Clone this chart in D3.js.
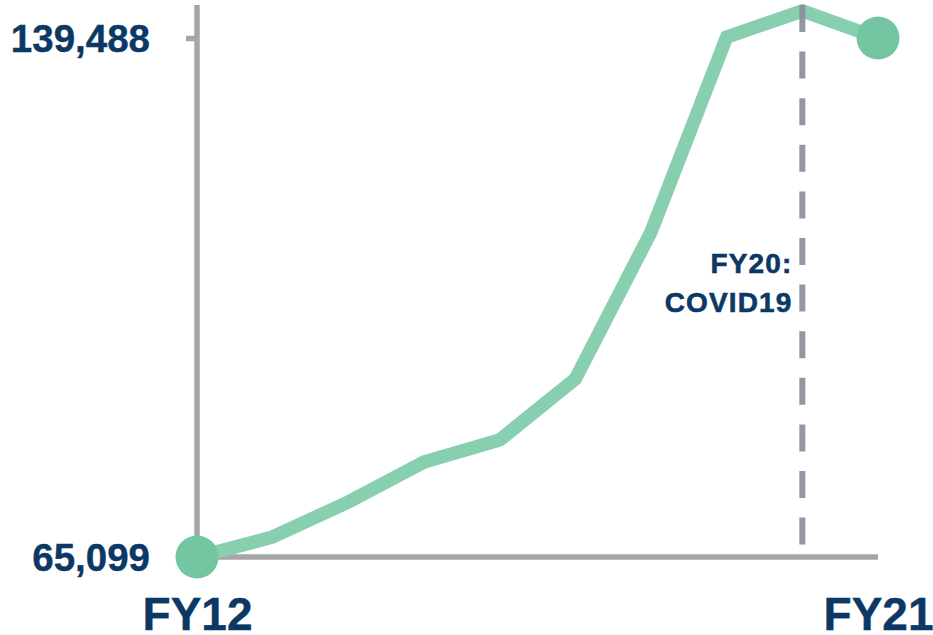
<!DOCTYPE html>
<html><head><meta charset="utf-8">
<script src="https://cdn.jsdelivr.net/npm/d3@7"></script>
<style>
html,body{margin:0;padding:0;background:#fff;}
svg{display:block;font-family:"Liberation Sans",Arial,sans-serif;}
</style></head>
<body>
<svg id="chart" width="933" height="635"></svg>
<script>
const years = ["FY12","FY13","FY14","FY15","FY16","FY17","FY18","FY19","FY20","FY21"];
const values = [65099,67966,72982,78715,81868,90612,111681,139630,143356,139488];
const yTickValues = [65099,139488];
const xTickLabels = ["FY12","FY21"];
const eventYear = "FY20";
const eventLabel = ["FY20:","COVID19"];

const navy = "#0B3864";
const svg = d3.select("#chart");
const x = d3.scalePoint().domain(years).range([197,878]);
const y = d3.scaleLinear().domain([65099,139488]).range([557,38]);

// axes lines
svg.append("line").attr("x1",x("FY12")).attr("x2",x("FY12")).attr("y1",5).attr("y2",y(65099)+3)
  .attr("stroke","#A6A6A6").attr("stroke-width",5.5);
svg.append("line").attr("x1",x("FY12")).attr("x2",878).attr("y1",y(65099)).attr("y2",y(65099))
  .attr("stroke","#A6A6A6").attr("stroke-width",5.5);

// y axis ticks and labels
const yAxis = d3.axisLeft(y).tickValues(yTickValues).tickSize(11).tickPadding(36)
  .tickFormat(d3.format(","));
const gy = svg.append("g").attr("transform",`translate(${x("FY12")},0)`).call(yAxis);
gy.select(".domain").remove();
gy.selectAll(".tick line").attr("stroke","#A6A6A6").attr("stroke-width",5.5);
gy.selectAll(".tick text").attr("fill",navy).attr("font-size","38.5px").attr("font-weight","bold")
  .attr("font-family","'Liberation Sans',Arial,sans-serif").attr("dy","0.36em")
  .attr("stroke",navy).attr("stroke-width",0.4);

// x axis labels
const xAxis = d3.axisBottom(x).tickValues(xTickLabels).tickSize(0).tickPadding(40);
const gx = svg.append("g").attr("transform",`translate(0,${y(65099)})`).call(xAxis);
gx.select(".domain").remove();
gx.selectAll(".tick text").attr("fill",navy).attr("font-size","46px").attr("font-weight","bold")
  .attr("font-family","'Liberation Sans',Arial,sans-serif").attr("dy","0.72em")
  .attr("stroke",navy).attr("stroke-width",0.4);

// data line
const line = d3.line().x((d,i)=>x(years[i])).y(d=>y(d));
svg.append("path").datum(values).attr("d",line).attr("fill","none")
  .attr("stroke","#88CFAF").attr("stroke-width",13.5).attr("stroke-linejoin","miter");

// event dashed line
svg.append("line").attr("x1",x(eventYear)).attr("x2",x(eventYear)).attr("y1",5).attr("y2",546)
  .attr("stroke","#8A8E9D").attr("stroke-width",6).attr("stroke-dasharray","27,19.6").attr("opacity",0.92);

// event label
const tl = svg.append("text").attr("text-anchor","end").attr("fill",navy)
  .attr("font-size","28px").attr("font-weight","bold").attr("letter-spacing","1.1px")
  .attr("stroke",navy).attr("stroke-width",0.6);
tl.selectAll("tspan").data(eventLabel).join("tspan")
  .attr("x",x(eventYear)-10).attr("y",(d,i)=>273+i*39).text(d=>d);

// end dots
svg.selectAll("circle.dot").data([0,values.length-1]).join("circle").attr("class","dot")
  .attr("cx",i=>x(years[i])).attr("cy",i=>y(values[i])).attr("r",21.5).attr("fill","#74C6A2");
</script>
</body></html>
